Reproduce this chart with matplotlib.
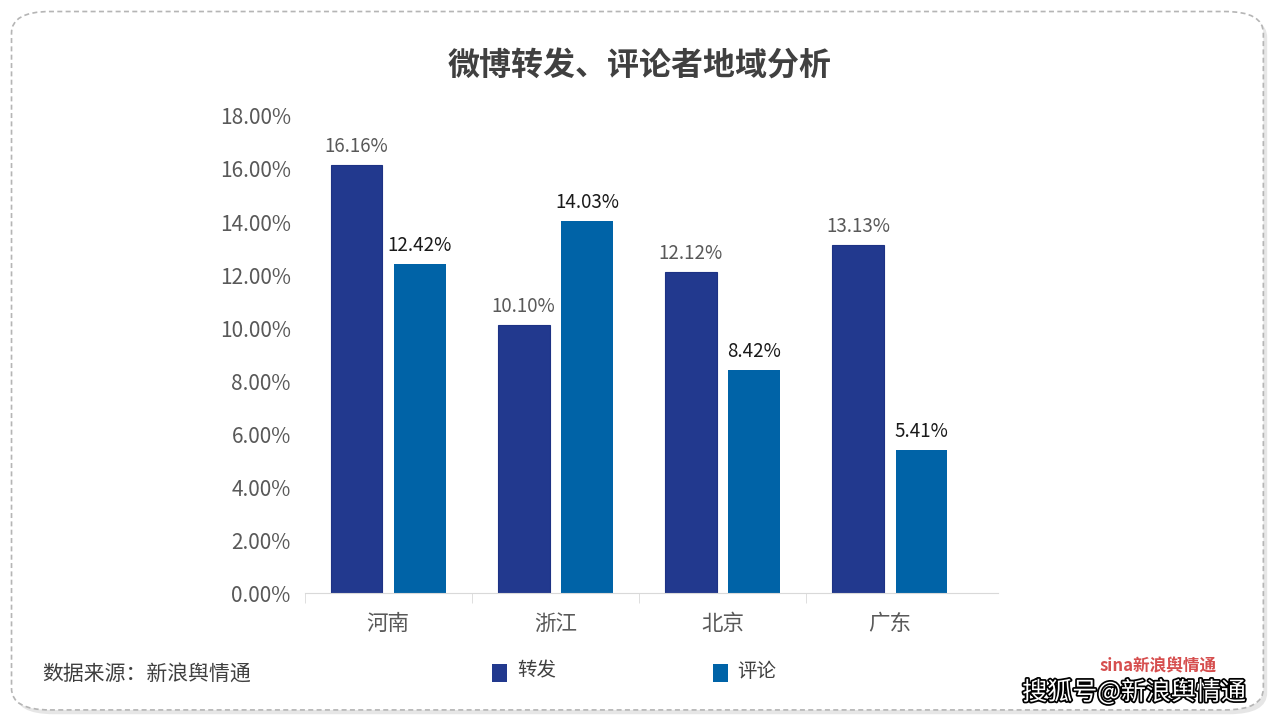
import matplotlib
matplotlib.use("Agg")
from matplotlib import pyplot as plt
from matplotlib.patches import FancyBboxPatch, Rectangle
import matplotlib.patheffects as pe
import numpy as np

plt.rcParams['font.family'] = ['Noto Sans CJK SC', 'DejaVu Sans']

regions = ['河南', '浙江', '北京', '广东']
zhuanfa = [16.16, 10.10, 12.12, 13.13]
pinglun = [12.42, 14.03, 8.42, 5.41]
yticks = [0, 2, 4, 6, 8, 10, 12, 14, 16, 18]

c_zf = '#22398E'
c_pl = '#0063A7'

fig = plt.figure(figsize=(12.8, 7.2), dpi=100)
fig.patch.set_facecolor('white')

# rounded dashed frame with a soft shadow
shadow = FancyBboxPatch((0.012, 0.008), 0.978, 0.97, boxstyle="round,pad=0,rounding_size=0.03",
                        transform=fig.transFigure, facecolor='#e6e6e6', edgecolor='none', zorder=-2)
frame = FancyBboxPatch((0.009, 0.014), 0.978, 0.97, boxstyle="round,pad=0,rounding_size=0.03",
                       transform=fig.transFigure, facecolor='white', edgecolor='#b5b5b5',
                       linestyle=(0, (3, 2)), linewidth=1.2, zorder=-1)
fig.patches.extend([shadow, frame])

ax = fig.add_axes([0.238, 0.176, 0.542, 0.663])
ax.set_facecolor('none')
x = np.arange(len(regions))
w = 0.31
off = 0.19
b1 = ax.bar(x - off, zhuanfa, w, color=c_zf, edgecolor='#1d3284', linewidth=0.8)
b2 = ax.bar(x + off, pinglun, w, color=c_pl)

for xi, v in zip(x, zhuanfa):
    ax.text(xi - off, v + 0.3, f'{v:.2f}%', ha='center', va='bottom', fontsize=13.5, color='#595959')
for xi, v in zip(x, pinglun):
    ax.text(xi + off, v + 0.3, f'{v:.2f}%', ha='center', va='bottom', fontsize=13.5, color='#1a1a1a')

ax.set_xlim(-0.5, 3.65)
ax.set_ylim(0, 18)
ax.set_yticks(yticks)
ax.set_yticklabels([f'{t:.2f}%' for t in yticks], fontsize=15, color='#595959')
ax.set_xticks(x)
ax.set_xticklabels(regions, fontsize=15.5, color='#595959')
ax.set_xticks([-0.5, 0.5, 1.5, 2.5], minor=True)
ax.tick_params(axis='x', which='major', length=0, pad=14)
ax.tick_params(axis='x', which='minor', length=7, color='#d9d9d9', direction='out')
ax.tick_params(axis='y', length=0, pad=10)
for s in ['top', 'right', 'left']:
    ax.spines[s].set_visible(False)
ax.spines['bottom'].set_color('#d9d9d9')

fig.text(0.5, 0.908, '微博转发、评论者地域分析', ha='center', va='center',
         fontsize=23, fontweight='bold', color='#404040')

fig.text(0.033, 0.065, '数据来源：新浪舆情通', ha='left', va='center', fontsize=15, color='#404040')

# legend
fig.patches.append(Rectangle((0.384, 0.053), 0.012, 0.025, transform=fig.transFigure,
                             facecolor=c_zf, edgecolor='none'))
fig.text(0.404, 0.068, '转发', ha='left', va='center', fontsize=14, color='#404040')
fig.patches.append(Rectangle((0.557, 0.053), 0.012, 0.025, transform=fig.transFigure,
                             facecolor=c_pl, edgecolor='none'))
fig.text(0.576, 0.068, '评论', ha='left', va='center', fontsize=14, color='#404040')

# watermark
fig.text(0.905, 0.075, 'sina新浪舆情通', ha='center', va='center', fontsize=12,
         color='#cc2222', alpha=0.8, fontweight='bold')
fig.text(0.886, 0.038, '搜狐号@新浪舆情通', ha='center', va='center', fontsize=18, color='white',
         path_effects=[pe.withStroke(linewidth=2.5, foreground='black')])

fig.savefig('out.png', dpi=100)
